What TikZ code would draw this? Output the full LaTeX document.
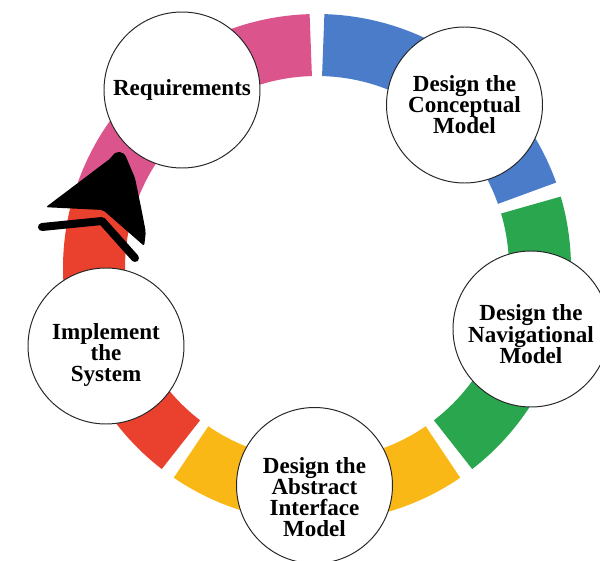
\documentclass[tikz,border=0pt]{standalone}
\usepackage{fontspec}
\setmainfont{Liberation Serif}
\usepackage{tikz}

\definecolor{ringpink}{RGB}{219,84,140}
\definecolor{ringblue}{RGB}{74,124,202}
\definecolor{ringgreen}{RGB}{42,166,78}
\definecolor{ringyellow}{RGB}{250,184,22}
\definecolor{ringred}{RGB}{234,64,46}

\begin{document}
\begin{tikzpicture}[
    stagetext/.style={align=center, inner sep=0pt,
      font=\fontsize{16.4}{15}\selectfont\bfseries},
    stage/.style={stagetext, draw=black!85, line width=0.7pt, circle,
      fill=white, minimum size=3.9cm},
    band/.style={line width=1.55cm}
  ]
    \useasboundingbox (-7.925, -7.325) rectangle (7.075, 6.7);

    % coloured ring, five pieces with small gaps
    \foreach \s/\c in {90/ringpink, 18/ringblue, -54/ringgreen,
                       -126/ringyellow, 162/ringred} {
      \draw[band, \c] (\s+1.6:5.575)
        arc[start angle=\s+1.6, end angle=\s+70.4, radius=5.575];
    }

    % arrow on the left side
    \coordinate (tipl) at (-5.15, 2.75);
    \coordinate (tipr) at (-4.75, 2.72);
    \coordinate (lbarb) at (-6.78, 1.52);
    \coordinate (notch) at (-5.35, 1.45);
    \coordinate (rbarb) at (-4.32, 0.55);
    \coordinate (cl) at (-6.875, 1.025);
    \coordinate (cm) at (-5.375, 1.175);
    \coordinate (cr) at (-4.55, 0.25);

    \fill[black, rounded corners=1.5pt] (notch) -- (rbarb) -- (-4.28, 0.9)
      -- (-4.375, 1.4) -- (-4.55, 2.25) -- (tipr)
      .. controls (-4.84, 2.94) and (-5.04, 2.94) .. (tipl)
      -- (lbarb) -- cycle;
    \draw[black, line width=0.2cm, line cap=round, line join=round]
      (cl) -- (cm) -- (cr);

    % stages
    \node[stage] (req) at (-3.375, 4.45) {Requirements};
    \node[stage] (concept) at (3.6875, 4.075) {Design the\\Conceptual\\Model};
    \node[stage] (nav) at (5.35, -1.525) {};
    \node[stage] (abstract) at (-0.0625, -5.4375) {};
    \node[stage] (impl) at (-5.275, -1.95) {};

    % texts sit a little low in these three
    \node[stagetext] (navtext) at ([yshift=-0.13cm]nav.center)
      {Design the\\Navigational\\Model};
    \node[stagetext] (abstracttext) at ([yshift=-0.29cm]abstract.center)
      {Design the\\Abstract\\Interface\\Model};
    \node[stagetext] (impltext) at ([yshift=-0.23cm]impl.center)
      {Implement\\the\\System};
  \end{tikzpicture}
\end{document}
